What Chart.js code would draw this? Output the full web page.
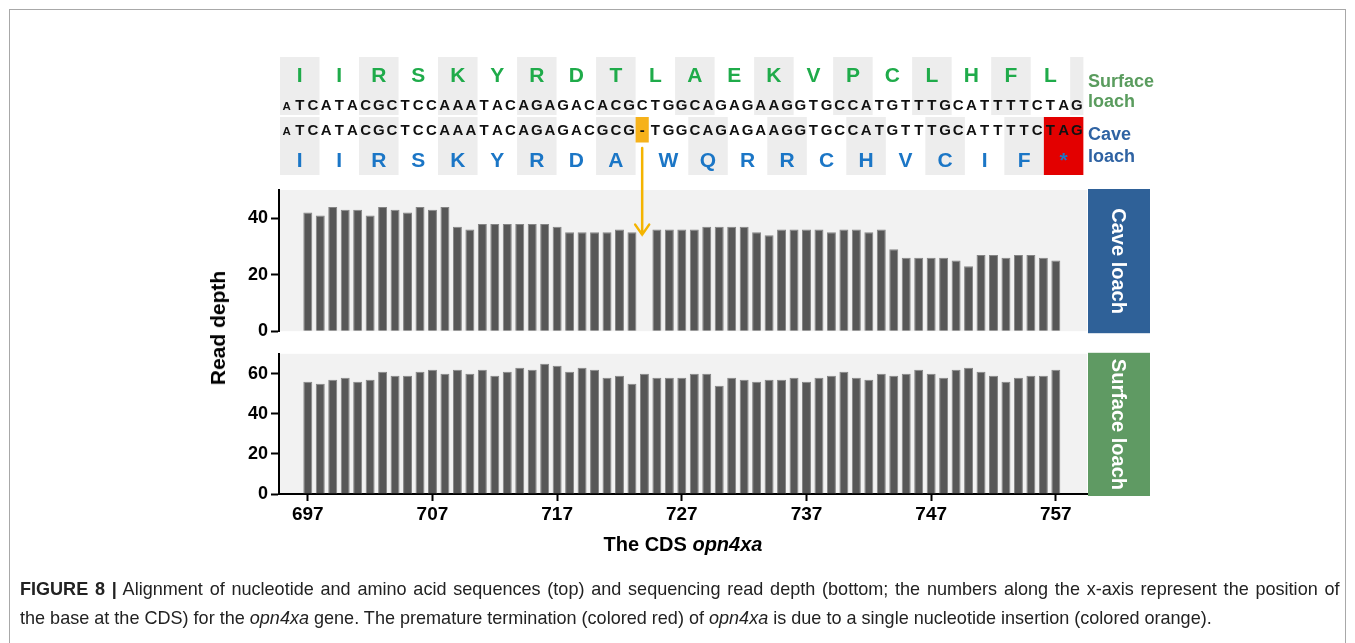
<!DOCTYPE html>
<html>
<head>
<meta charset="utf-8">
<script src="https://cdn.jsdelivr.net/npm/chart.js@4.4.1/dist/chart.umd.min.js"></script>
<style>
  html, body { margin: 0; padding: 0; background: #fff; }
  body { width: 1355px; height: 643px; position: relative; overflow: hidden;
         font-family: "Liberation Sans", Arial, sans-serif; }
  #frame { position: absolute; left: 9px; top: 9px; width: 1335px; height: 720px;
           border: 1px solid #a8a8a8; }
  canvas { position: absolute; left: 0; }
  #topChart { top: 0; }
  #bottomChart { top: 340px; }
  #ytitle { position: absolute; left: 218px; top: 328px; transform: translate(-50%, -50%) rotate(-90deg);
            font-weight: bold; font-size: 21px; white-space: nowrap; color: #000; }
  #xtitle { position: absolute; left: 683px; top: 533px; transform: translateX(-50%);
            font-weight: bold; font-size: 20px; white-space: nowrap; color: #000; }
  #caption { position: absolute; left: 20px; top: 574px; width: 1389px;
             transform: scaleX(0.95); transform-origin: 0 0;
             font-size: 19px; line-height: 29px; color: #222; white-space: nowrap; }
  #caption .l1 { text-align: justify; text-align-last: justify; white-space: normal; }
</style>
</head>
<body>
<div id="frame"></div>
<canvas id="topChart" width="1355" height="345"></canvas>
<canvas id="bottomChart" width="1355" height="230"></canvas>
<div id="ytitle">Read depth</div>
<div id="xtitle">The CDS <i>opn4xa</i></div>
<div id="caption">
  <div class="l1"><b>FIGURE 8 |</b> Alignment of nucleotide and amino acid sequences (top) and sequencing read depth (bottom; the numbers along the x-axis represent the position of</div>
  <div>the base at the CDS) for the <i>opn4xa</i> gene. The premature termination (colored red) of <i>opn4xa</i> is due to a single nucleotide insertion (colored orange).</div>
</div>

<script>
// CDS positions of the bases
const positions = [697, 698, 699, 700, 701, 702, 703, 704, 705, 706, 707, 708, 709, 710, 711, 712, 713, 714, 715, 716,
                   717, 718, 719, 720, 721, 722, 723, 724, 725, 726, 727, 728, 729, 730, 731, 732, 733, 734, 735, 736,
                   737, 738, 739, 740, 741, 742, 743, 744, 745, 746, 747, 748, 749, 750, 751, 752, 753, 754, 755, 756, 757];

// Read depth per base; null where the cave loach carries the inserted base
const caveDepth = [42, 41, 44, 43, 43, 41, 44, 43, 42, 44, 43, 44, 37, 36, 38, 38, 38, 38, 38, 38,
                   37, 35, 35, 35, 35, 36, 35, null, 36, 36, 36, 36, 37, 37, 37, 37, 35, 34, 36, 36,
                   36, 36, 35, 36, 36, 35, 36, 29, 26, 26, 26, 26, 25, 23, 27, 27, 26, 27, 27, 26, 25];
const surfaceDepth = [56, 55, 57, 58, 56, 57, 61, 59, 59, 61, 62, 60, 62, 60, 62, 59, 61, 63, 62, 65,
                      64, 61, 63, 62, 58, 59, 55, 60, 58, 58, 58, 60, 60, 54, 58, 57, 56, 57, 57, 58,
                      56, 58, 59, 61, 58, 57, 60, 59, 60, 62, 60, 58, 62, 63, 61, 59, 56, 58, 59, 59, 62];

// Axis ticks
const xTicks = [697, 707, 717, 727, 737, 747, 757];
const caveTicks = [0, 20, 40];
const surfaceTicks = [0, 20, 40, 60];

// Aligned sequences
const surfaceNT = 'ATCATACGCTCCAAATACAGAGACACGCTGGCAGAGAAGGTGCCATGTTTGCATTTTCTAG';
const caveNT    = 'ATCATACGCTCCAAATACAGAGACGCG-TGGCAGAGAAGGTGCCATGTTTGCATTTTCTAG';
const surfaceAA = ['I', 'I', 'R', 'S', 'K', 'Y', 'R', 'D', 'T', 'L', 'A', 'E', 'K', 'V', 'P', 'C', 'L', 'H', 'F', 'L'];
const caveAA    = ['I', 'I', 'R', 'S', 'K', 'Y', 'R', 'D', 'A', 'W', 'Q', 'R', 'R', 'C', 'H', 'V', 'C', 'I', 'F', '*'];

const FONT = '"Liberation Sans", Arial, sans-serif';
const BAR_FILL = '#575757';
const BAR_EDGE = '#858585';

// x range of the panels (in CDS position units)
const xMin = 694.69, xMax = 759.5;

// light grey panel background
const panelBg = {
  id: 'panelBg',
  beforeDraw(chart) {
    const { ctx, chartArea: a } = chart;
    ctx.save();
    ctx.fillStyle = '#f2f2f2';
    ctx.fillRect(a.left, a.top, a.right - a.left, a.bottom - a.top);
    ctx.restore();
  }
};

// coloured strip on the right of a panel
function stripLabel(text, color) {
  return {
    id: 'strip' + text.replace(/\s/g, ''),
    afterDraw(chart) {
      const { ctx, chartArea: a } = chart;
      const x = a.right + 1, y = a.top - 1, w = 62, h = a.bottom - a.top + 3;
      ctx.save();
      ctx.fillStyle = color;
      ctx.fillRect(x, y, w, h);
      ctx.translate(x + w / 2, y + h / 2);
      ctx.rotate(Math.PI / 2);
      ctx.fillStyle = '#fff';
      ctx.font = 'bold 20px ' + FONT;
      ctx.textAlign = 'center';
      ctx.textBaseline = 'middle';
      ctx.fillText(text, 0, 1);
      ctx.restore();
    }
  };
}

// split a nucleotide row into codon frames; '-' is its own frame
function codonFrames(nt) {
  const frames = [];
  let i = 0;
  while (i < nt.length) {
    if (nt[i] === '-') { frames.push({ start: i, len: 1, gap: true }); i++; continue; }
    let len = 0;
    while (len < 3 && i + len < nt.length && nt[i + len] !== '-') len++;
    frames.push({ start: i, len, gap: false });
    i += len;
  }
  return frames;
}

// alignment block above the bars
const seq = { left: 280, nt: 13.17, surfTop: 57, surfBot: 115, caveTop: 117, caveBot: 175 };

const alignmentPlugin = {
  id: 'alignment',
  afterDraw(chart) {
    const ctx = chart.ctx;
    ctx.save();

    function drawGroup(nt, aa, top, bottom, ntBase, aaBase, aaColor) {
      const frames = codonFrames(nt);
      let k = 0;
      frames.forEach(f => {
        const x0 = seq.left + f.start * seq.nt, w = f.len * seq.nt;
        if (f.gap) {
          ctx.fillStyle = '#f6b21b';
          ctx.fillRect(x0, top, w, 25.5);
          return;
        }
        const letter = f.len === 3 ? aa[k] : null;
        if (letter === '*') {
          ctx.fillStyle = '#e30000';
          ctx.fillRect(x0, top, w, bottom - top);
        } else if (k % 2 === 0) {
          ctx.fillStyle = '#ededed';
          ctx.fillRect(x0, top, w, bottom - top);
        }
        if (letter) {
          ctx.fillStyle = aaColor;
          ctx.font = 'bold 21px ' + FONT;
          ctx.textAlign = 'center';
          ctx.textBaseline = 'alphabetic';
          ctx.fillText(letter, x0 + w / 2, aaBase);
        }
        k++;
      });
      // nucleotides
      ctx.fillStyle = '#111';
      ctx.textAlign = 'center';
      ctx.textBaseline = 'alphabetic';
      for (let j = 0; j < nt.length; j++) {
        ctx.font = (j === 0 ? 'bold 11.5px ' : 'bold 15px ') + FONT;
        ctx.fillText(nt[j], seq.left + (j + 0.5) * seq.nt, ntBase);
      }
    }

    drawGroup(surfaceNT, surfaceAA, seq.surfTop, seq.surfBot, 110, 81.7, '#1fab4a');
    drawGroup(caveNT, caveAA, seq.caveTop, seq.caveBot, 135, 166.7, '#1b76c6');

    // row labels
    ctx.textAlign = 'left';
    ctx.font = 'bold 18px ' + FONT;
    ctx.fillStyle = '#5a9c5e';
    ctx.fillText('Surface', 1088, 86.5);
    ctx.fillText('loach', 1088, 106.5);
    ctx.fillStyle = '#2f63a3';
    ctx.fillText('Cave', 1088, 140);
    ctx.fillText('loach', 1088, 161.5);

    // arrow from the inserted base down to the gap in cave read depth
    const gapIndex = caveNT.indexOf('-');
    const ax = seq.left + (gapIndex + 0.5) * seq.nt;
    const tipY = chart.scales.y.getPixelForValue(34.2);
    ctx.strokeStyle = '#f4b400';
    ctx.lineWidth = 2.5;
    ctx.lineCap = 'round';
    ctx.beginPath();
    ctx.moveTo(ax, 148);
    ctx.lineTo(ax, tipY);
    ctx.moveTo(ax - 7, tipY - 10);
    ctx.lineTo(ax, tipY);
    ctx.lineTo(ax + 7, tipY - 10);
    ctx.stroke();
    ctx.restore();
  }
};

function yAxis(max, ticks) {
  return {
    min: 0, max: max,
    afterBuildTicks: s => { s.ticks = ticks.map(v => ({ value: v })); },
    afterFit: s => { s.width = 279; },
    grid: { drawOnChartArea: false, offset: false, tickLength: 8, tickColor: '#000', tickWidth: 2 },
    border: { color: '#000', width: 2 },
    ticks: { color: '#000', padding: 3, font: { family: FONT, size: 18, weight: 'bold' } }
  };
}

function barDataset(values) {
  return {
    data: positions.map((p, i) => ({ x: p, y: values[i] })).filter(d => d.y !== null),
    backgroundColor: BAR_FILL,
    borderColor: BAR_EDGE,
    borderWidth: 1,
    barPercentage: 0.72,
    categoryPercentage: 1
  };
}

const common = {
  responsive: false,
  animation: false,
  events: [],
  plugins: { legend: { display: false }, tooltip: { enabled: false } }
};

// Cave loach panel (with the alignment block above it)
new Chart(document.getElementById('topChart'), {
  type: 'bar',
  data: { datasets: [barDataset(caveDepth)] },
  options: Object.assign({}, common, {
    layout: { padding: { top: 190, bottom: 9, left: 0, right: 268 } },
    scales: {
      x: { type: 'linear', min: xMin, max: xMax, offset: false, display: false, grid: { offset: false } },
      y: yAxis(50, caveTicks)
    }
  }),
  plugins: [panelBg, stripLabel('Cave loach', '#2f6198'), alignmentPlugin]
});

// Surface loach panel with the position axis
new Chart(document.getElementById('bottomChart'), {
  type: 'bar',
  data: { datasets: [barDataset(surfaceDepth)] },
  options: Object.assign({}, common, {
    layout: { padding: { top: 8, bottom: 0, left: 0, right: 268 } },
    scales: {
      x: {
        type: 'linear', min: xMin, max: xMax, offset: false,
        afterBuildTicks: s => { s.ticks = xTicks.map(v => ({ value: v })); },
        afterFit: s => { s.height = 76; },
        grid: { drawOnChartArea: false, offset: false, tickLength: 7, tickColor: '#000', tickWidth: 2 },
        border: { color: '#000', width: 2 },
        ticks: { color: '#000', padding: 2, autoSkip: false, maxRotation: 0,
                 font: { family: FONT, size: 19, weight: 'bold' },
                 callback: v => String(v) }
      },
      y: yAxis(70, surfaceTicks)
    }
  }),
  plugins: [panelBg, stripLabel('Surface loach', '#5f9a63')]
});
</script>
</body>
</html>
